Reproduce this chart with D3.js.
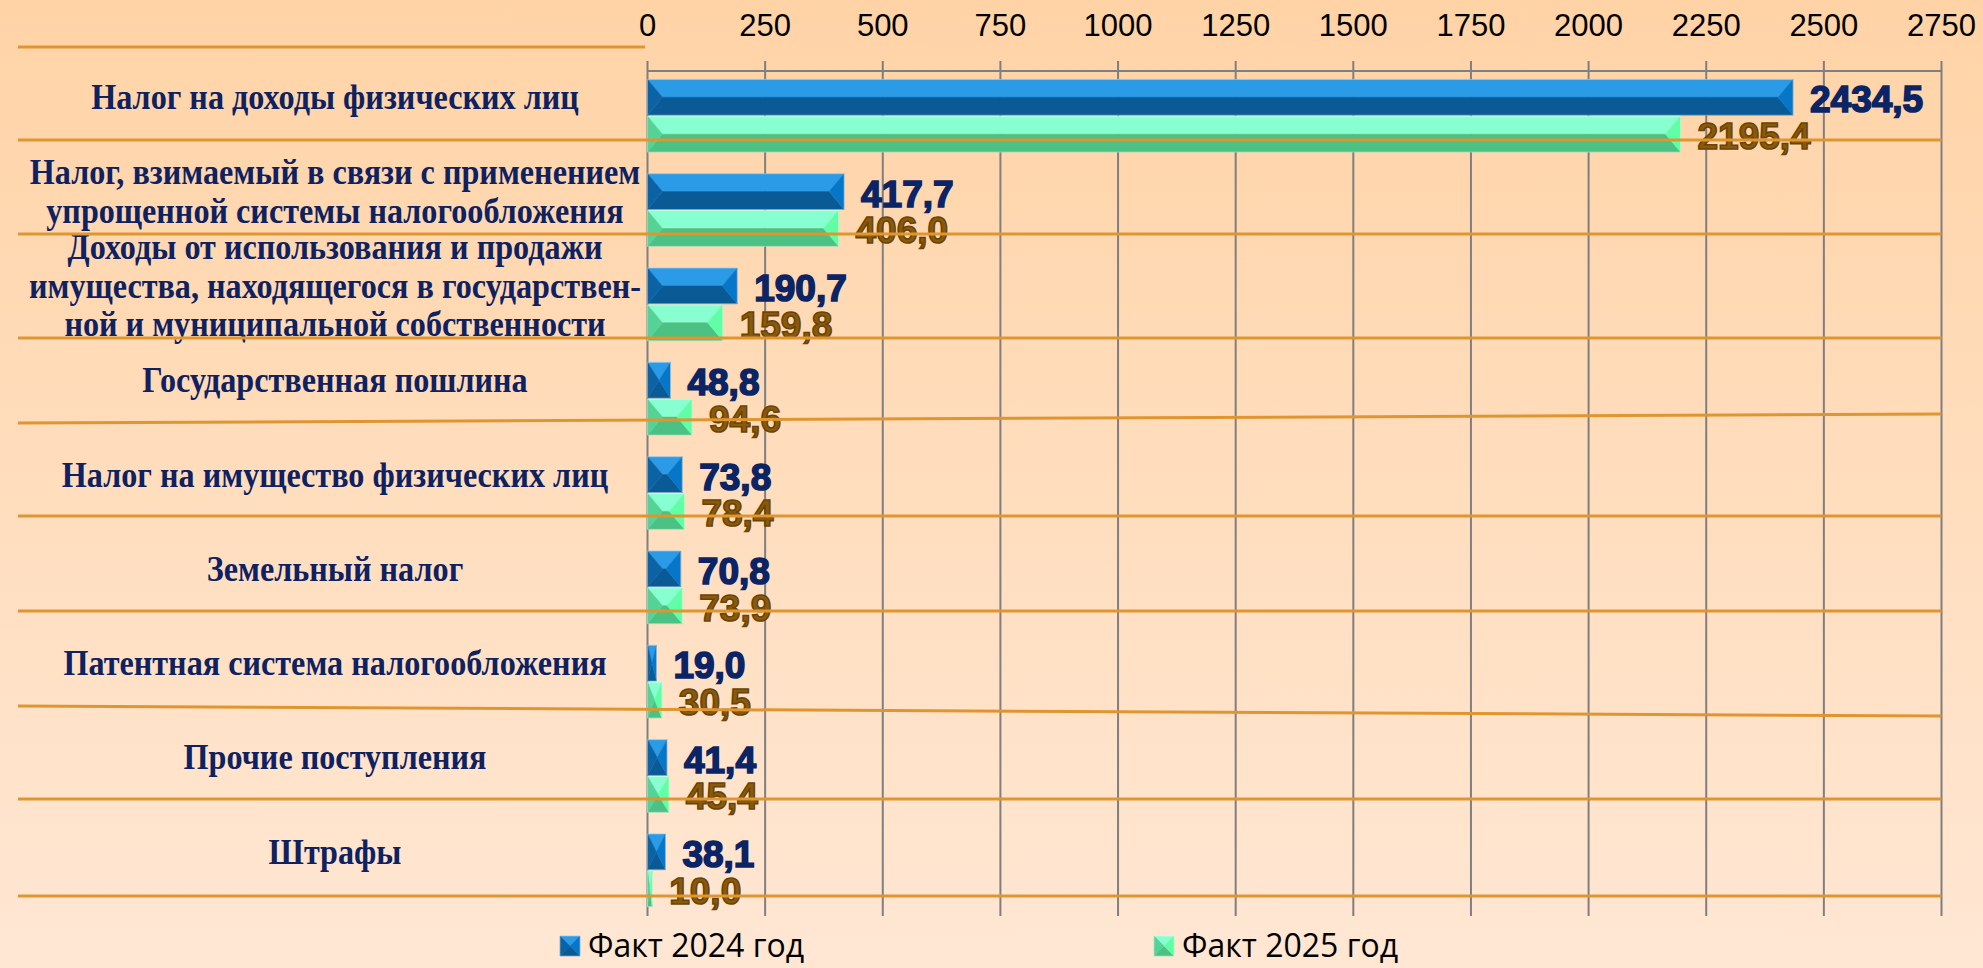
<!DOCTYPE html>
<meta charset="utf-8">
<style>
body { margin: 0; }
.cat { font: bold 35px "Liberation Serif", "Times New Roman", serif; fill: #0e2160; text-anchor: middle; }
.tick { font: 31px "Liberation Sans", Arial, sans-serif; fill: #000; text-anchor: middle; }
.val { font: bold 37px "Liberation Sans", Arial, sans-serif; stroke-width: 1.6px; }
.legend { font: 32px "Open Sans", "Noto Sans", sans-serif; fill: #000; }
</style>
<svg width="1983" height="968"></svg>
<script src="https://d3js.org/d3.v7.min.js"></script>
<script>

// data
var categories = [
  ["Налог на доходы физических лиц"],
  ["Налог, взимаемый в связи с применением", "упрощенной системы налогообложения"],
  ["Доходы от использования и продажи", "имущества, находящегося в государствен-", "ной и муниципальной собственности"],
  ["Государственная пошлина"],
  ["Налог на имущество физических лиц"],
  ["Земельный налог"],
  ["Патентная система налогообложения"],
  ["Прочие поступления"],
  ["Штрафы"]
];
var fact2024 = [2434.5, 417.7, 190.7, 48.8, 73.8, 70.8, 19.0, 41.4, 38.1];
var fact2025 = [2195.4, 406.0, 159.8, 94.6, 78.4, 73.9, 30.5, 45.4, 10.0];
var seriesNames = ["Факт 2024 год", "Факт 2025 год"];
var tickValues = d3.range(0, 2751, 250);

// table row borders on the slide (left y, right y)
var rowLines = [[140, 140], [234, 234], [338, 338], [423, 414], [516, 516],
                [611, 611], [706, 716], [799, 799], [896, 896]];

var faces = [
  { top: "#2b9be8", bottom: "#0a5a96", left: "#0b63a6", right: "#0677c8", text: "#0b2466", stroke: "#0b2466" },
  { top: "#88ffd0", bottom: "#4bc184", left: "#55d396", right: "#60ffa6", text: "#8a5a0c", stroke: "#6a4406" }
];

var svg = d3.select("svg");

var defs = svg.append("defs");
var grad = defs.append("linearGradient").attr("id", "bg")
    .attr("x1", 0).attr("y1", 0).attr("x2", 0).attr("y2", 1);
grad.append("stop").attr("offset", "0%").attr("stop-color", "#ffd3a6");
grad.append("stop").attr("offset", "100%").attr("stop-color", "#ffe7d4");
svg.append("rect").attr("width", 1983).attr("height", 968).attr("fill", "url(#bg)");

var x = d3.scaleLinear().domain([0, 2750]).range([647.5, 1941.5]);
var y = d3.scaleBand().domain(d3.range(categories.length))
    .range([70, 916]).paddingInner(0.23).paddingOuter(0.1);
var ys = d3.scaleBand().domain([0, 1]).range([0, y.bandwidth()]).paddingInner(0.03);

// grid
svg.append("g").selectAll("line")
  .data(tickValues)
  .enter().append("line")
    .attr("x1", d => x(d)).attr("x2", d => x(d))
    .attr("y1", 61).attr("y2", 916)
    .attr("stroke", "#7f7f7f").attr("stroke-width", 2);
svg.append("line")
    .attr("x1", x(0)).attr("x2", x(2750)).attr("y1", 71).attr("y2", 71)
    .attr("stroke", "#7f7f7f").attr("stroke-width", 2);
svg.append("g").selectAll("text")
  .data(tickValues)
  .enter().append("text")
    .attr("class", "tick")
    .attr("x", d => x(d)).attr("y", 36)
    .text(d => d);

// bevelled bar
function bevel(g, x0, x1, y0, h, f) {
  var b = Math.min(15, (x1 - x0) / 2), ym = y0 + h / 2, y1 = y0 + h;
  var p = [
    [f.top, [[x0, y0], [x1, y0], [x1 - b, ym], [x0 + b, ym]]],
    [f.bottom, [[x0 + b, ym], [x1 - b, ym], [x1, y1], [x0, y1]]],
    [f.left, [[x0, y0], [x0 + b, ym], [x0, y1]]],
    [f.right, [[x1, y0], [x1, y1], [x1 - b, ym]]]
  ];
  p.forEach(function(q) {
    g.append("polygon").attr("points", q[1].map(c => c.join(",")).join(" "))
      .attr("fill", q[0]).attr("stroke", q[0]).attr("stroke-width", 0.5);
  });
  g.append("rect").attr("x", x0).attr("y", y0).attr("width", x1 - x0).attr("height", h)
    .attr("fill", "none").attr("stroke", "#ffffff").attr("stroke-opacity", 0.35).attr("stroke-width", 1);
}

var bars = svg.append("g");
[fact2024, fact2025].forEach(function(series, s) {
  series.forEach(function(v, i) {
    var y0 = y(i) + ys(s);
    bevel(bars, x(0), x(v), y0, ys.bandwidth(), faces[s]);
    bars.append("text")
      .attr("class", "val")
      .attr("x", x(v) + 17)
      .attr("y", y0 + ys.bandwidth() / 2 + 15)
      .attr("fill", faces[s].text)
      .attr("stroke", faces[s].stroke)
      .text(d3.format(".1f")(v).replace(".", ","));
  });
});

// category labels, slightly condensed
var lineH = 38.5;
categories.forEach(function(lines, i) {
  var cy = y(i) + ys(0) + ys.bandwidth() / 2;
  var t = svg.append("text").attr("class", "cat")
      .attr("transform", "translate(335,0) scale(0.92,1)");
  lines.forEach(function(l, k) {
    t.append("tspan").attr("x", 0)
      .attr("y", cy + (k - (lines.length - 1) / 2) * lineH + 12)
      .text(l);
  });
});

// orange row lines, on top
var ol = svg.append("g").attr("stroke", "#df9630").attr("stroke-width", 3);
ol.append("line").attr("x1", 18).attr("x2", 645).attr("y1", 47).attr("y2", 47);
ol.selectAll(".row")
  .data(rowLines)
  .enter().append("line")
    .attr("x1", 18).attr("x2", x(2750))
    .attr("y1", d => d[0]).attr("y2", d => d[1]);

// legend
var legX = [560, 1154];
seriesNames.forEach(function(n, s) {
  var lg = svg.append("g");
  bevel(lg, legX[s], legX[s] + 20, 936, 20, faces[s]);
  lg.append("text").attr("class", "legend")
    .attr("x", legX[s] + 28).attr("y", 957).text(n);
});

</script>
